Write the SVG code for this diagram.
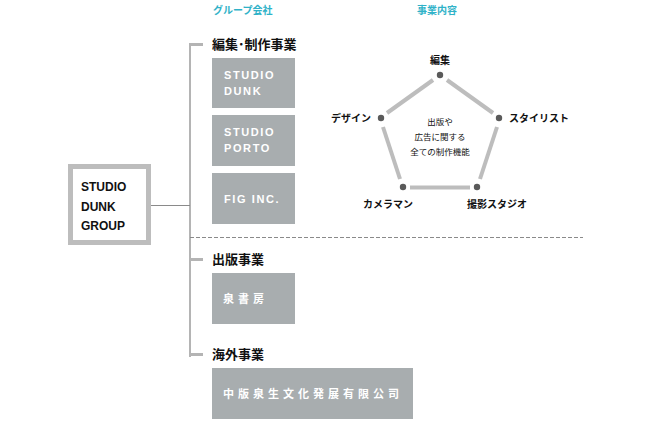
<svg xmlns="http://www.w3.org/2000/svg" width="660" height="423" viewBox="0 0 660 423">
<style>
text{font-family:"Liberation Sans","Noto Sans CJK JP",Arial,sans-serif;font-weight:bold}
.hd{font-size:10px;fill:#2fb2c8}
.sec{font-size:13px;fill:#111}
.co{fill:#a8adaf}
.ct{font-size:11px;fill:#fff;letter-spacing:1.6px}
.jt{font-size:11px;fill:#fff;letter-spacing:4px}
.pl{font-size:10px;fill:#111}
.cl{font-size:8.5px;fill:#111;font-weight:normal}
.edge{stroke:#bdbdbd;stroke-width:4;fill:none}
.dot{fill:#5a5a5a}
.tree{stroke:#b4b4b4;fill:none}
</style>
<rect width="660" height="423" fill="#fff"/>
<text class="hd" x="213" y="14">グループ会社</text>
<text class="hd" x="417" y="14">事業内容</text>
<g id="connectors">
<line class="tree" x1="190" y1="43" x2="190" y2="357" stroke-width="2"/>
<line class="tree" x1="190" y1="44.5" x2="203" y2="44.5" stroke-width="3"/>
<line class="tree" x1="190" y1="259.5" x2="203" y2="259.5" stroke-width="3"/>
<line class="tree" x1="190" y1="354.5" x2="203" y2="354.5" stroke-width="3"/>
<line x1="151" y1="205.5" x2="190" y2="205.5" stroke="#8a8a8a" stroke-width="1"/>
<line x1="190" y1="237.5" x2="583" y2="237.5" stroke="#8a8a8a" stroke-width="1" stroke-dasharray="4 2"/>
</g>
<g id="group">
<rect x="70.5" y="166.5" width="78" height="76" fill="#fff" stroke="#bdbdbd" stroke-width="5"/>
<text x="81" y="191" font-size="12" fill="#111">STUDIO</text>
<text x="81" y="211" font-size="12" fill="#111">DUNK</text>
<text x="81" y="230" font-size="12" fill="#111">GROUP</text>
</g>
<g id="sec-edit"><text class="sec" x="212" y="49">編集･制作事業</text></g>
<g id="studio-dunk"><rect class="co" x="212" y="58" width="83" height="50"/><text class="ct" x="224" y="79">STUDIO</text><text class="ct" x="224" y="95">DUNK</text></g>
<g id="studio-porto"><rect class="co" x="212" y="115" width="83" height="51"/><text class="ct" x="224" y="136">STUDIO</text><text class="ct" x="224" y="152">PORTO</text></g>
<g id="fig"><rect class="co" x="212" y="173" width="83" height="51"/><text class="ct" x="224" y="203">FIG INC.</text></g>
<g id="sec-pub"><text class="sec" x="212" y="264">出版事業</text></g>
<g id="senshobo"><rect class="co" x="212" y="273" width="83" height="51"/><text class="jt" x="223" y="303">泉書房</text></g>
<g id="sec-overseas"><text class="sec" x="212" y="359">海外事業</text></g>
<g id="chuhan"><rect class="co" x="212" y="368" width="201" height="51"/><text class="jt" x="223" y="398">中版泉生文化発展有限公司</text></g>
<g id="pentagon">
<line class="edge" x1="447" y1="80" x2="493" y2="113"/>
<line class="edge" x1="497" y1="127" x2="480" y2="179"/>
<line class="edge" x1="470" y1="187.5" x2="410" y2="187.5"/>
<line class="edge" x1="400" y1="179" x2="383" y2="127"/>
<line class="edge" x1="387" y1="113" x2="433" y2="80"/>
<circle class="dot" cx="440" cy="75" r="3.2"/>
<circle class="dot" cx="499" cy="118" r="3.2"/>
<circle class="dot" cx="477" cy="187" r="3.2"/>
<circle class="dot" cx="403" cy="187" r="3.2"/>
<circle class="dot" cx="381" cy="118" r="3.2"/>
<text class="pl" x="440" y="64" text-anchor="middle">編集</text>
<text class="pl" x="509" y="122">スタイリスト</text>
<text class="pl" x="371" y="122" text-anchor="end">デザイン</text>
<text class="pl" x="388" y="208" text-anchor="middle">カメラマン</text>
<text class="pl" x="497" y="208" text-anchor="middle">撮影スタジオ</text>
<text class="cl" x="440" y="125" text-anchor="middle">出版や</text>
<text class="cl" x="440" y="140" text-anchor="middle">広告に関する</text>
<text class="cl" x="440" y="155" text-anchor="middle">全ての制作機能</text>
</g>
</svg>
